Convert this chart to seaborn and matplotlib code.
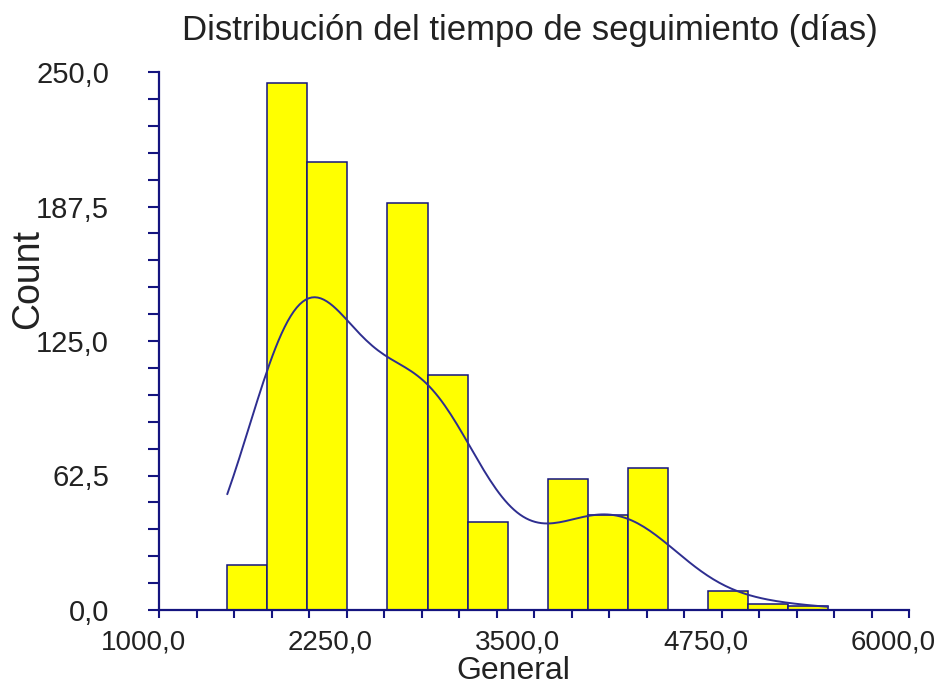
import numpy as np
import pandas as pd
import matplotlib
matplotlib.use("Agg")
import matplotlib.pyplot as plt
import matplotlib.transforms as mtransforms
from matplotlib.ticker import MultipleLocator
import seaborn as sns

# Follow-up time histogram: bin edges (days) and counts per bin
bin_edges = [1455, 1722, 1989, 2256, 2523, 2790, 3057, 3324, 3591,
             3858, 4125, 4392, 4659, 4926, 5193, 5460]
counts = [21, 245, 208, 0, 189, 109, 41, 0, 61, 44, 66, 0, 9, 3, 2]

x_ticks = [1000, 2250, 3500, 4750, 6000]
x_tick_labels = ["1000,0", "2250,0", "3500,0", "4750,0", "6000,0"]
y_ticks = [0, 62.5, 125, 187.5, 250]
y_tick_labels = ["0,0", "62,5", "125,0", "187,5", "250,0"]

title = "Distribución del tiempo de seguimiento (días)"
x_label = "General"
y_label = "Count"

centers = [(a + b) / 2 for a, b in zip(bin_edges[:-1], bin_edges[1:])]
df = pd.DataFrame({"dias": centers, "n": counts})

sns.set_style("white")
plt.rcParams["font.family"] = ["Liberation Sans", "DejaVu Sans"]

navy = "#14147f"
curve = "#2e2e90"
text_col = "#222222"

fig = plt.figure(figsize=(9.38, 6.86), dpi=100)
ax = fig.add_axes([159 / 938, 1 - 610 / 686, 750 / 938, 538 / 686])

# Histogram with a count-scaled kernel density curve over the data range
sns.histplot(data=df, x="dias", weights="n", bins=bin_edges, ax=ax,
             color="#ffff00", alpha=1.0, edgecolor=navy, linewidth=1.1,
             kde=True,
             kde_kws={"bw_adjust": 0.55, "cut": 3,
                      "clip": (bin_edges[0], bin_edges[-1])},
             line_kws={"color": curve, "linewidth": 1.4})
for line in ax.lines:
    line.set_color(curve)

ax.set_xlim(1000, 6000)
ax.set_ylim(0, 250)
ax.set_xticks(x_ticks)
ax.set_xticklabels(x_tick_labels)
ax.set_yticks(y_ticks)
ax.set_yticklabels(y_tick_labels)
ax.xaxis.set_minor_locator(MultipleLocator(250))
ax.yaxis.set_minor_locator(MultipleLocator(12.5))

for s in ["top", "right"]:
    ax.spines[s].set_visible(False)
for s in ["left", "bottom"]:
    ax.spines[s].set_color(navy)
    ax.spines[s].set_linewidth(1.6)

ax.tick_params(axis="y", which="both", direction="out", length=8, width=1.5,
               color=navy, left=True, labelsize=21, pad=28, labelcolor=text_col)
ax.tick_params(axis="x", which="both", direction="out", length=6, width=1.5,
               color=navy, bottom=True, labelsize=20, pad=8, labelcolor=text_col)

# x tick labels sit slightly left of their ticks
shift = mtransforms.ScaledTranslation(-16 / 100, 0, fig.dpi_scale_trans)
for lbl in ax.get_xticklabels():
    lbl.set_transform(lbl.get_transform() + shift)

ax.set_xlabel(x_label, fontsize=23, color=text_col)
ax.xaxis.set_label_coords((513 - 159) / 750, -0.0855)
ax.set_ylabel(y_label, fontsize=27, color=text_col)
ax.yaxis.set_label_coords(-(159 - 46) / 750, 0.615)
ax.yaxis.label.set_verticalalignment("bottom")

fig.text(530 / 938, 1 - 40 / 686, title, ha="center", va="baseline",
         fontsize=25, color=text_col)

fig.savefig("out.png", dpi=100, facecolor="white")
